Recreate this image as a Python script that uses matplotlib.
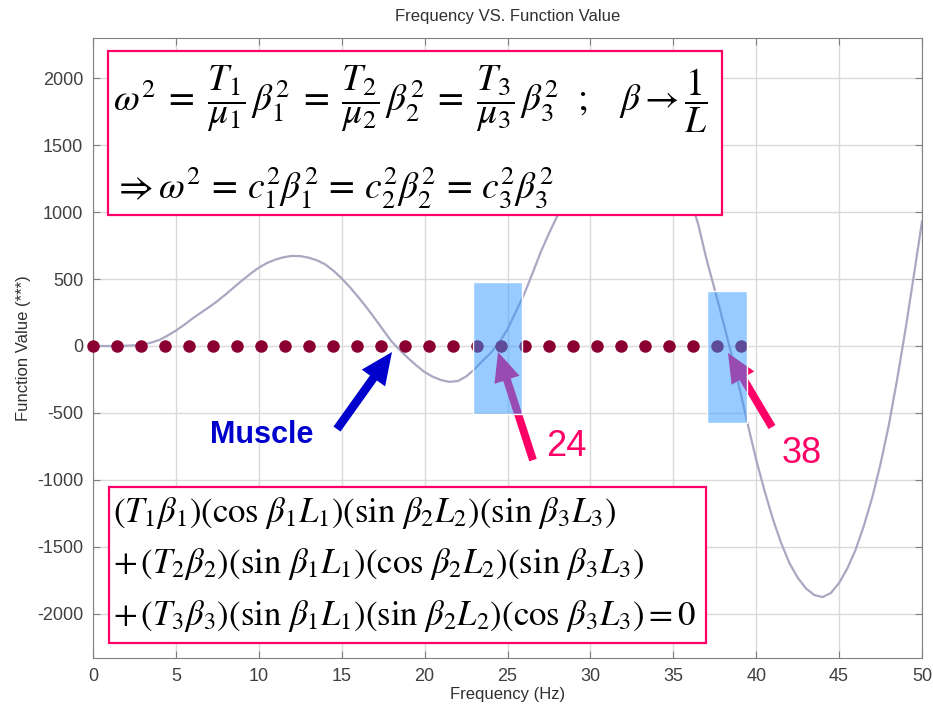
import matplotlib
matplotlib.use("Agg")
import matplotlib.pyplot as plt
from matplotlib.patches import Rectangle, FancyArrowPatch

# curve, every half Hz
freq = [i / 2 for i in range(101)]
value = [0, 0, 0, 0, 2, 5, 10, 25, 45, 78,
         115, 158, 205, 248, 290, 335, 385, 438, 490, 540,
         585, 620, 645, 663, 673, 671, 660, 640, 610, 562,
         505, 438, 365, 288, 205, 120, 35, -30, -90, -145,
         -195, -230, -255, -268, -262, -228, -175, -110, -50, 25,
         125, 255, 385, 540, 700, 840, 970, 1110, 1250, 1380,
         1500, 1610, 1700, 1770, 1810, 1820, 1790, 1730, 1640, 1520,
         1390, 1250, 1110, 910, 650, 420, 185, -60, -320, -590,
         -850, -1080, -1290, -1470, -1620, -1730, -1810, -1860, -1875, -1845,
         -1770, -1660, -1520, -1340, -1130, -880, -590, -250, 120, 520,
         930]

# dotted marker row along zero
dot_x = [0, 1.45, 2.9, 4.34, 5.79, 7.24, 8.69, 10.14, 11.58, 13.03,
         14.48, 15.93, 17.38, 18.82, 20.27, 21.72, 23.17, 24.62, 26.06, 27.51,
         28.96, 30.41, 31.86, 33.3, 34.75, 36.2, 37.65, 39.1]
dot_y = [0] * len(dot_x)

x_ticks = [0, 5, 10, 15, 20, 25, 30, 35, 40, 45, 50]
y_ticks = [-2000, -1500, -1000, -500, 0, 500, 1000, 1500, 2000]

roots = ["24", "38"]

plt.rcParams['font.family'] = ['Liberation Sans', 'DejaVu Sans']
plt.rcParams['mathtext.fontset'] = 'stix'
plt.rcParams['axes.unicode_minus'] = False

W, H = 933, 709
fig = plt.figure(figsize=(W / 100, H / 100), dpi=100)
ax = fig.add_axes([93 / W, 1 - 658 / H, (922 - 93) / W, (658 - 38) / H])


def px(x, y):
    # picture pixel -> figure fraction
    return x / W, 1 - y / H


def dpt(x, y):
    # picture pixel -> data coords
    return (x - 93) / (922 - 93) * 50, (346 - y) / 0.1338


ax.set_xlim(0, 50)
ax.set_ylim(-2330, 2300)
ax.set_xticks(x_ticks)
ax.set_yticks(y_ticks)
ax.grid(True, color='#dadada', lw=1)
ax.set_axisbelow(True)
ax.tick_params(direction='in', top=True, right=True, length=5, color='#808080',
               labelsize=13, labelcolor='#404040', pad=7)
for s in ax.spines.values():
    s.set_color('#808080')

ax.plot(freq, value, color='#a8a8c2', lw=1.6, zorder=2)
ax.plot(dot_x, dot_y, 'o', color='#8b0033', ms=9, mec='none', zorder=3, clip_on=False)

ax.set_title('Frequency VS. Function Value', fontsize=12, color='#303030', pad=12)
ax.set_xlabel('Frequency (Hz)', fontsize=12, color='#303030', labelpad=2)
ax.set_ylabel('Function Value (***)', fontsize=12, color='#303030', labelpad=4)


def arrow(tail, tip, color, scale):
    a = FancyArrowPatch(dpt(*tail), dpt(*tip),
                        arrowstyle='simple,head_length=1.0,head_width=0.9,tail_width=0.27',
                        mutation_scale=scale, color=color, lw=0, zorder=4,
                        shrinkA=0, shrinkB=0)
    ax.add_patch(a)


arrow((533, 460), (498, 352), '#ff0066', 21)
arrow((772, 427), (728, 353), '#ff0066', 21)
arrow((337, 429), (392, 352), '#0000cc', 23)

# highlight boxes over the roots
for (x0, y0, x1, y1) in [(472.7, 281.7, 522.3, 414), (707.3, 290.7, 746.7, 423.3)]:
    a0 = dpt(x0, y1)
    a1 = dpt(x1, y0)
    ax.add_patch(Rectangle(a0, a1[0] - a0[0], a1[1] - a0[1], facecolor='#3399ff',
                           alpha=0.5, edgecolor='none', zorder=5))
    ax.add_patch(Rectangle(a0, a1[0] - a0[0], a1[1] - a0[1], facecolor='none',
                           edgecolor='white', lw=1, zorder=5))

fig.text(*px(546, 456), roots[0], color='#ff0066', fontsize=26, ha='left', va='baseline')
fig.text(*px(782, 463), roots[1], color='#ff0066', fontsize=26, ha='left', va='baseline')
fig.text(*px(210, 443), 'Muscle', color='#0000cc', fontsize=22, fontweight='bold',
         ha='left', va='baseline')

# equation boxes
for (x0, y0, x1, y1) in [(108, 51, 722, 215), (109, 487, 706, 643)]:
    a0 = dpt(x0, y1)
    a1 = dpt(x1, y0)
    ax.add_patch(Rectangle(a0, a1[0] - a0[0], a1[1] - a0[1], facecolor='white',
                           edgecolor='#ff0066', lw=1.6, zorder=6))

top_lines = [
    r'$\omega^2\;=\;\dfrac{T_1}{\mu_1}\,\beta_1^2\;=\;\dfrac{T_2}{\mu_2}\,\beta_2^2'
    r'\;=\;\dfrac{T_3}{\mu_3}\,\beta_3^2\ \ ;\ \ \ \beta\rightarrow\dfrac{1}{L}$',
    r'$\Rightarrow\omega^2\,=\,c_1^2\beta_1^2\,=\,c_2^2\beta_2^2\,=\,c_3^2\beta_3^2$',
]
fig.text(*px(113, 111), top_lines[0], fontsize=27, ha='left', va='baseline', zorder=10)
fig.text(*px(113, 199), top_lines[1], fontsize=27, ha='left', va='baseline', zorder=10)

bottom_lines = [
    r'$(T_1\beta_1)(\cos\,\beta_1 L_1)(\sin\,\beta_2 L_2)(\sin\,\beta_3 L_3)$',
    r'$+\,(T_2\beta_2)(\sin\,\beta_1 L_1)(\cos\,\beta_2 L_2)(\sin\,\beta_3 L_3)$',
    r'$+\,(T_3\beta_3)(\sin\,\beta_1 L_1)(\sin\,\beta_2 L_2)(\cos\,\beta_3 L_3)=0$',
]
for txt, base in zip(bottom_lines, [522, 573, 625]):
    fig.text(*px(113, base), txt, fontsize=25, ha='left', va='baseline', zorder=10)

fig.savefig('out.png', dpi=100)
